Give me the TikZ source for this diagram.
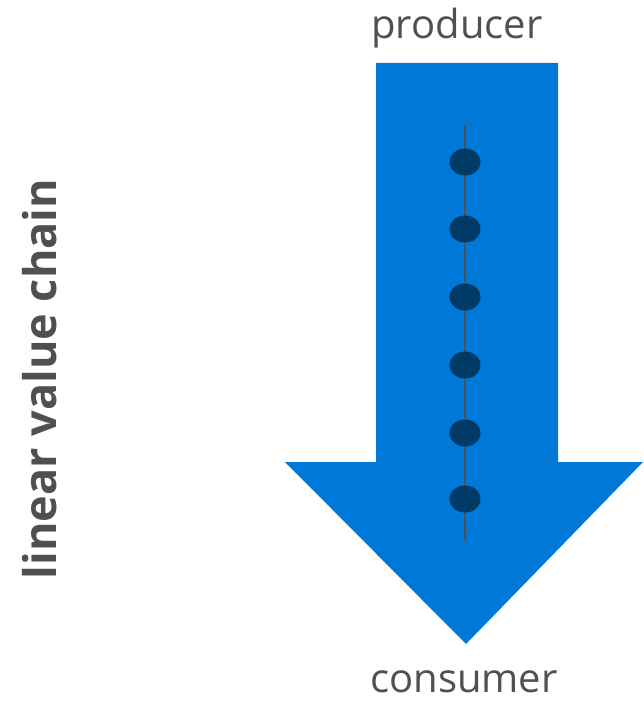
\documentclass[tikz,border=0pt]{standalone}
\usepackage{fontspec}
\usetikzlibrary{shapes.geometric}
\setmainfont{Open Sans}
\definecolor{msblue}{HTML}{0078D7}
\definecolor{dotblue}{HTML}{003A66}
\definecolor{txtgray}{HTML}{505050}
\begin{document}
\begin{tikzpicture}[x=1pt,y=-1pt,
  lbl/.style={text=txtgray,font=\fontsize{40}{44}\selectfont,inner sep=0pt},
  stepdot/.style={ellipse,fill=dotblue,minimum width=31pt,minimum height=27pt,inner sep=0pt}]
\useasboundingbox (0,0) rectangle (643,703);
\fill[msblue] (376,63) -- (558,63) -- (558,462) -- (643,462) -- (466,644) -- (285,462) -- (376,462) -- cycle;
\coordinate (ltop) at (465,126);
\coordinate (lbot) at (465,541);
\draw[line width=2pt,draw=txtgray] (ltop) -- (lbot);
\foreach \i/\yy in {1/162,2/229,3/297,4/365,5/433,6/499}
  \node[stepdot] (d\i) at (465,\yy) {};
\node[lbl,anchor=base] (prod) at (457,39) {producer};
\node[lbl,anchor=base] (cons) at (464,692) {consumer};
\node[text=txtgray,font=\fontsize{45}{50}\bfseries\selectfont,rotate=90,inner sep=0pt,anchor=base] (lvc) at (56,379) {linear value chain};
\end{tikzpicture}
\end{document}
